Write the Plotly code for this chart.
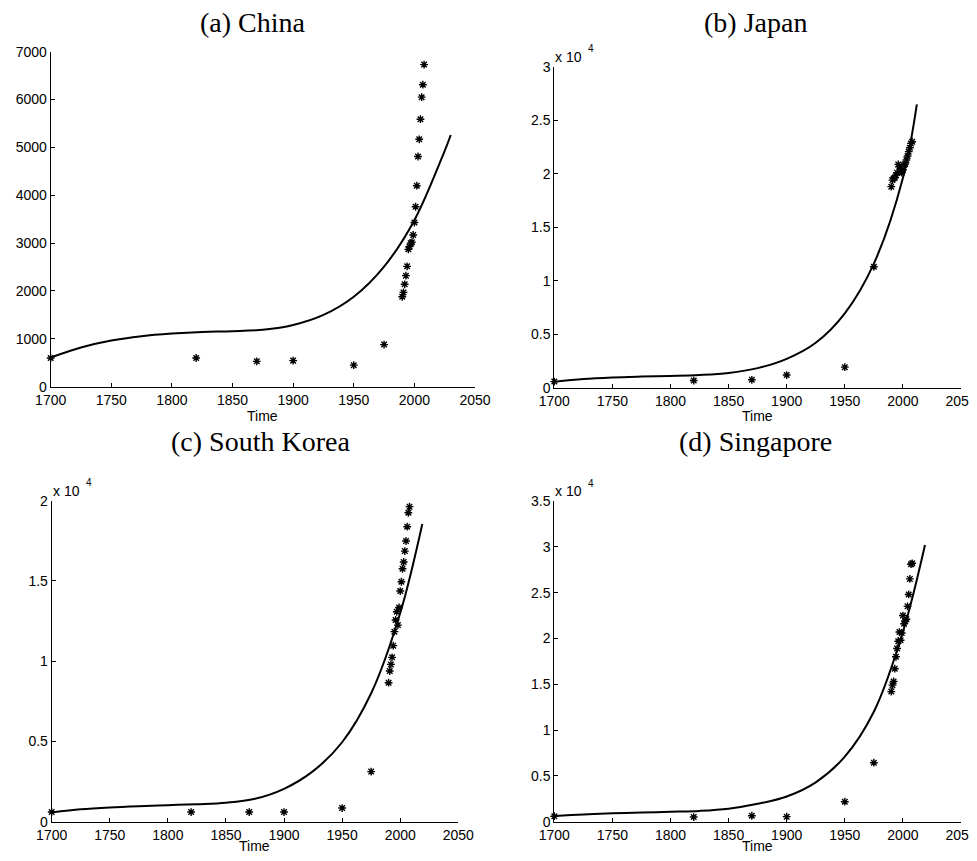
import plotly.graph_objects as go

OFF = 8  # page body margin of the browser
W, H = 977 - OFF, 861 - 2 * OFF

# ---------------- data ----------------
x_ticks = [1700, 1750, 1800, 1850, 1900, 1950, 2000, 2050]
cluster_years = list(range(1990, 2009))

# (a) China
years_cn = [1700, 1820, 1870, 1900, 1950, 1975] + cluster_years
gdp_cn = [600, 600, 530, 545, 450, 880,
          1880, 1970, 2140, 2320, 2515, 2870, 2930, 3000, 3020, 3170,
          3430, 3760, 4200, 4810, 5170, 5590, 6050, 6310, 6730]
fit_years_cn = [1700, 1725, 1750, 1775, 1800, 1825, 1850, 1875, 1900, 1925, 1950, 1975, 2000, 2025, 2030]
fit_cn = [610, 820, 965, 1055, 1110, 1145, 1160, 1190, 1290, 1500, 1880, 2510, 3480, 4930, 5260]
yticks_cn = [0, 1000, 2000, 3000, 4000, 5000, 6000, 7000]
ytext_cn = ["0", "1000", "2000", "3000", "4000", "5000", "6000", "7000"]

# (b) Japan
years_jp = [1700, 1820, 1870, 1900, 1950, 1975] + cluster_years
gdp_jp = [570, 670, 737, 1180, 1920, 11300,
          18790, 19400, 19560, 19620, 19870, 20100, 20870, 20650, 20220, 20100,
          20340, 20810, 20900, 21280, 21650, 22060, 22430, 22830, 22990]
fit_years_jp = [1700, 1725, 1750, 1775, 1800, 1825, 1850, 1875, 1900, 1925, 1950, 1975, 2000, 2012]
fit_jp = [560, 820, 960, 1040, 1100, 1190, 1380, 1830, 2700, 4200, 6950, 11600, 19600, 26480]
yticks_jp = [0, 5000, 10000, 15000, 20000, 25000, 30000]
ytext_jp = ["0", "0.5", "1", "1.5", "2", "2.5", "3"]

# (c) South Korea
years_kr = [1700, 1820, 1870, 1900, 1950, 1975] + cluster_years
gdp_kr = [600, 600, 600, 600, 850, 3120,
          8660, 9390, 9800, 10240, 10970, 11840, 12570, 13080, 12250, 13350,
          14370, 14950, 15760, 16180, 16860, 17490, 18380, 19250, 19630]
fit_years_kr = [1700, 1725, 1750, 1775, 1800, 1825, 1850, 1875, 1900, 1925, 1950, 1975, 2000, 2019]
fit_kr = [580, 770, 890, 970, 1030, 1090, 1180, 1430, 2050, 3150, 4950, 8000, 13000, 18550]
yticks_kr = [0, 5000, 10000, 15000, 20000]
ytext_kr = ["0", "0.5", "1", "1.5", "2"]

# (d) Singapore
years_sg = [1700, 1820, 1870, 1900, 1950, 1975] + cluster_years
gdp_sg = [600, 510, 650, 550, 2180, 6440,
          14200, 14900, 15300, 16700, 18000, 18900, 19700, 20700, 19800, 20600,
          22500, 21600, 21900, 22100, 23500, 24800, 26500, 28100, 28200]
fit_years_sg = [1700, 1725, 1750, 1775, 1800, 1825, 1850, 1875, 1900, 1925, 1950, 1975, 2000, 2019]
fit_sg = [620, 790, 910, 1000, 1080, 1180, 1420, 1950, 2750, 4300, 7100, 12000, 20700, 30200]
yticks_sg = [0, 5000, 10000, 15000, 20000, 25000, 30000, 35000]
ytext_sg = ["0", "0.5", "1", "1.5", "2", "2.5", "3", "3.5"]

titles = ["(a) China", "(b) Japan", "(c) South Korea", "(d) Singapore"]

# ---------------- layout (pixel boxes in the page) ----------------
boxes = [  # left, right, top, bottom in px
    (50.7, 475.0, 51.7, 386.7),
    (554.3, 961.0, 66.7, 387.7),
    (51.7, 458.3, 500.7, 821.7),
    (554.3, 961.0, 501.0, 821.7),
]
yranges = [[0, 7000], [0, 30000], [0, 20000], [0, 35000]]
title_pos = [(253, 23), (755, 23), (260, 441), (755, 441)]
time_y = [416, 416, 846, 846]
panels = [
    (years_cn, gdp_cn, fit_years_cn, fit_cn, yticks_cn, ytext_cn),
    (years_jp, gdp_jp, fit_years_jp, fit_jp, yticks_jp, ytext_jp),
    (years_kr, gdp_kr, fit_years_kr, fit_kr, yticks_kr, ytext_kr),
    (years_sg, gdp_sg, fit_years_sg, fit_sg, yticks_sg, ytext_sg),
]


def fx(px):
    return (px - OFF) / W


def fy(py):
    return 1 - (py - OFF) / H


tick_font = dict(family="Liberation Sans, Arial, sans-serif", size=14, color="black")
title_font = dict(family="Liberation Serif, serif", size=28, color="black")

fig = go.Figure()
layout = dict(width=W, height=H, margin=dict(l=0, r=0, t=0, b=0, autoexpand=False),
              paper_bgcolor="white", plot_bgcolor="white", showlegend=False,
              annotations=[])

for i, (yrs, vals, fyrs, fvals, ytv, ytt) in enumerate(panels):
    n = "" if i == 0 else str(i + 1)
    xa, ya = "x" + n, "y" + n
    fig.add_trace(go.Scatter(x=fyrs, y=fvals, mode="lines", xaxis=xa, yaxis=ya,
                             line=dict(color="black", width=2, shape="spline", smoothing=1.0)))
    fig.add_trace(go.Scatter(x=yrs, y=vals, mode="markers", xaxis=xa, yaxis=ya, cliponaxis=False,
                             marker=dict(symbol="asterisk-open", size=6.5, color="black",
                                         line=dict(color="black", width=1.4))))
    l, r, t, b = boxes[i]
    layout["xaxis" + n] = dict(domain=[fx(l), fx(r)], anchor=ya, range=[1700, 2050],
                               tickvals=x_ticks, ticks="inside", ticklen=4, tickcolor="black",
                               showline=True, linecolor="black", linewidth=1, showgrid=False,
                               zeroline=False, tickfont=tick_font, automargin=False,
                               ticklabeloverflow="allow")
    layout["yaxis" + n] = dict(domain=[fy(b), fy(t)], anchor=xa, range=yranges[i],
                               tickvals=ytv, ticktext=ytt, ticks="inside", ticklen=4,
                               tickcolor="black", showline=True, linecolor="black", linewidth=1,
                               showgrid=False, zeroline=False, tickfont=tick_font, automargin=False,
                               ticklabeloverflow="allow")
    tx, ty = title_pos[i]
    layout["annotations"].append(dict(text=titles[i], xref="paper", yref="paper",
                                      x=fx(tx), y=fy(ty),
                                      showarrow=False, font=title_font, xanchor="center", yanchor="middle"))
    layout["annotations"].append(dict(text="Time", xref="paper", yref="paper",
                                      x=fx((l + r) / 2), y=fy(time_y[i]), showarrow=False,
                                      font=tick_font, xanchor="center", yanchor="middle"))
    if i > 0:
        layout["annotations"].append(dict(text="x 10", xref="paper", yref="paper",
                                          x=fx(l - 1), y=fy(t - 10), showarrow=False,
                                          font=dict(family="Liberation Sans, Arial", size=14, color="black"),
                                          xanchor="left", yanchor="middle"))
        layout["annotations"].append(dict(text="4", xref="paper", yref="paper",
                                          x=fx(l + 32), y=fy(t - 18), showarrow=False,
                                          font=dict(family="Liberation Sans, Arial", size=10, color="black"),
                                          xanchor="left", yanchor="middle"))

fig.update_layout(**layout)
fig.write_html("out.html")
